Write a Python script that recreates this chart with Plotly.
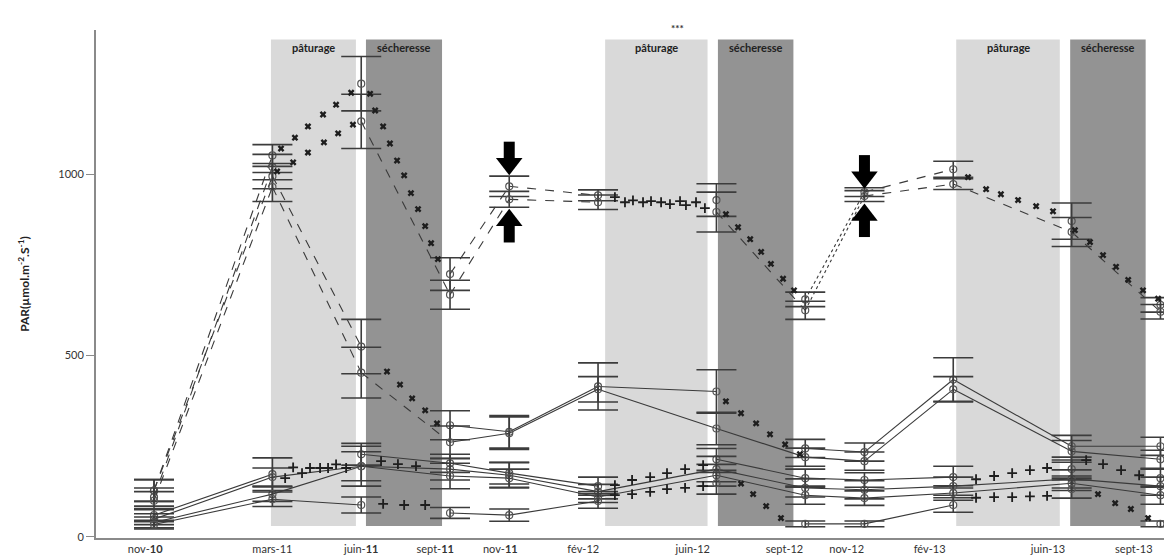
"""
Évolution du PAR sous différents traitements (nov-10 à sept-13)
"""

import plotly.graph_objects as go

# Dates de mesure (mois depuis nov-10)
mois = [0, 4, 7, 10, 12, 15, 19, 22, 24, 27, 31, 34]
etiquettes = ["nov-<b>10</b>", "mars-11", "juin-<b>11</b>", "sept-<b>11</b>", "nov-<b>11</b>",
              "fév-12", "juin-12", "sept-12", "nov-12", "fév-13", "juin-13", "sept-13"]
pos_etiquettes = [-0.3, 4.0, 7.0, 9.5, 11.7, 14.5, 18.2, 21.3, 23.4, 26.2, 30.2, 33.1]

# Moyennes et erreurs
h1 = [128, 1052, 1250, 725, 967, 942, 929, 655, 951, 1014, 871, 640]
h1_err = [30, 30, 75, 45, 28, 15, 45, 20, 12, 22, 50, 20]
h2 = [110, 1020, 1146, 668, 931, 923, 896, 625, 940, 973, 841, 621]
h2_err = [25, 35, 75, 40, 22, 20, 55, 25, 15, 15, 40, 20]
m1 = [128, 995, 525, 308, 290, 415, 401, 244, 234, 434, 250, 250]
m1_err = [30, 35, 75, 40, 45, 65, 60, 25, 25, 60, 30, 25]
m2 = [100, 965, 453, 261, 286, 407, 299, 220, 209, 407, 236, 214]
m2_err = [25, 40, 70, 45, 45, 35, 45, 25, 25, 35, 30, 25]
l1 = [60, 173, 228, 203, 176, 140, 214, 162, 157, 165, 187, 162]
l1_err = [18, 45, 30, 25, 30, 25, 30, 25, 20, 30, 25, 25]
l2 = [49, 165, 195, 187, 170, 125, 187, 135, 130, 140, 160, 140]
l2_err = [15, 25, 55, 30, 35, 20, 35, 25, 25, 25, 25, 25]
l3 = [40, 118, 195, 168, 162, 110, 170, 115, 107, 121, 148, 115]
l3_err = [15, 20, 40, 35, 25, 15, 30, 25, 20, 20, 20, 25]
l4 = [34, 104, 88, 66, 60, 99, 148, 36, 36, 88, 132, 36]
l4_err = [12, 20, 22, 15, 17, 20, 30, 8, 8, 20, 25, 8]

# Style de liaison entre deux dates successives
liaisons_h1 = ["dash", None, None, "dash", "dash", None, None, "dot", "dash", None, None]
liaisons_h2 = ["dash", None, "dash", "dash", "dash", None, "dash", "dot", "dash", "dash", "dash"]
liaisons_m1 = ["dash", "dash", None, "solid", "solid", "solid", None, "solid", "solid", "solid", "solid"]
liaisons_m2 = ["dash", "dash", "dash", "solid", "solid", "solid", "solid", "solid", "solid", "solid", "solid"]
liaisons_l1 = ["solid", None, "solid", "solid", "solid", None, "solid", "solid", "solid", None, None]
liaisons_l2 = ["solid"] * 11
liaisons_l3 = ["solid"] * 11
liaisons_l4 = ["solid", "solid", None, "solid", "solid", None, None, "solid", "solid", None, None]

# Marques "x"
x_haut_ete11 = [4.29, 4.76, 5.20, 5.71, 6.15, 6.66, 7.30, 4.16, 4.70, 5.20, 5.74, 6.22, 6.72]
y_haut_ete11 = [1071, 1101, 1132, 1165, 1192, 1225, 1222, 1008, 1033, 1060, 1088, 1113, 1137]
x_haut_sech11 = [7.47, 7.74, 7.97, 8.21, 8.45, 8.68, 8.92, 9.16, 9.36, 9.59]
y_haut_sech11 = [1176, 1132, 1085, 1038, 997, 948, 904, 857, 810, 766]
x_mil_sech11 = [7.87, 8.31, 8.72, 9.16, 9.56]
y_mil_sech11 = [456, 420, 382, 349, 313]
x_haut_sech12 = [19.32, 19.73, 20.14, 20.51, 20.84, 21.25, 21.62]
y_haut_sech12 = [890, 854, 821, 786, 753, 712, 680]
x_mil_sech12 = [19.32, 19.83, 20.34, 20.81, 21.32, 21.82]
y_mil_sech12 = [374, 341, 313, 283, 255, 228]
x_bas_sech12 = [19.83, 20.24, 20.68, 21.18]
y_bas_sech12 = [147, 118, 85, 52]
x_haut_ete13 = [27.5, 28.11, 28.61, 29.19, 29.8, 30.37]
y_haut_ete13 = [992, 959, 945, 929, 912, 898]
x_haut_sech13 = [31.11, 31.62, 32.06, 32.5, 32.91, 33.41, 33.92]
y_haut_sech13 = [846, 813, 777, 745, 709, 680, 657]
x_bas_sech13 = [31.89, 32.47, 33.0, 33.58]
y_bas_sech13 = [118, 93, 77, 52]

# Marques "+"
px_ete11 = [4.43, 4.70, 5.0, 5.27, 5.61, 5.88, 6.15, 6.49]
py_ete11 = [162, 192, 176, 190, 190, 190, 200, 190]
px_sech11 = [7.67, 8.24, 8.85, 7.74, 8.45, 9.16]
py_sech11 = [209, 201, 195, 91, 88, 88]
px_haut_ete12 = [15.57, 15.91, 16.18, 16.52, 16.79, 17.13, 17.43, 17.77, 17.97, 18.31, 18.61]
py_haut_ete12 = [937, 923, 928, 923, 926, 923, 918, 926, 915, 923, 907]
px_bas_ete12 = [15.57, 16.15, 16.76, 17.33, 17.94, 18.55, 15.57, 16.15, 16.76, 17.33, 17.94, 18.55]
py_bas_ete12 = [143, 157, 165, 176, 187, 198, 115, 118, 124, 132, 135, 140]
px_ete13 = [27.77, 28.38, 28.99, 29.59, 30.17, 27.77, 28.38, 28.99, 29.59, 30.17]
py_ete13 = [159, 168, 176, 184, 190, 108, 110, 110, 112, 113]
px_sech13 = [31.49, 32.06, 32.67, 33.28]
py_sech13 = [212, 201, 184, 170]

# Périodes de pâturage et de sécheresse (en mois)
periodes = [("pâturage", 3.95, 6.82), ("sécheresse", 7.16, 9.73),
            ("pâturage", 15.24, 18.7), ("sécheresse", 19.05, 21.6),
            ("pâturage", 27.1, 30.6), ("sécheresse", 30.95, 33.5)]
couleurs_periodes = {"pâturage": "#d9d9d9", "sécheresse": "#939393"}

# Flèches (mesures de nov-11 et nov-12) : pointe haute et pointe basse
fleches_mois = [12, 24]
fleches_haut = [1012, 975]
fleches_bas = [890, 905]


def ajouter_serie(fig, valeurs, erreurs, liaisons):
    """Ajoute une série : segments selon le style de liaison, puis points + barres d'erreur"""
    for style in ("solid", "dash", "dot"):
        xs, ys = [], []
        for i, s in enumerate(liaisons):
            if s == style:
                xs += [mois[i], mois[i + 1], None]
                ys += [valeurs[i], valeurs[i + 1], None]
        if xs:
            fig.add_trace(go.Scatter(
                x=xs, y=ys, mode="lines", showlegend=False, hoverinfo="skip",
                line=dict(color="#3a3a3a", width=1.1, dash=style)
            ))
    fig.add_trace(go.Scatter(
        x=mois, y=valeurs, mode="markers", showlegend=False,
        marker=dict(symbol="circle-open", size=7, color="#555", line=dict(width=1.2)),
        error_y=dict(type="data", array=erreurs, color="#3c3c3c", thickness=1.6, width=20)
    ))


def ajouter_fleches(fig):
    """Flèches pleines : tige épaisse + tête triangulaire"""
    for m, haut, bas in zip(fleches_mois, fleches_haut, fleches_bas):
        # tige
        fig.add_trace(go.Scatter(x=[m, m, None, m, m], y=[haut + 30, haut + 78, None, bas - 30, bas - 78],
                                 mode="lines", showlegend=False, hoverinfo="skip",
                                 line=dict(color="#000", width=11)))
        # têtes
        fig.add_trace(go.Scatter(x=[m], y=[haut + 17], mode="markers", showlegend=False,
                                 hoverinfo="skip",
                                 marker=dict(symbol="triangle-down", size=23, color="#000")))
        fig.add_trace(go.Scatter(x=[m], y=[bas - 17], mode="markers", showlegend=False,
                                 hoverinfo="skip",
                                 marker=dict(symbol="triangle-up", size=23, color="#000")))


def crear_figure():
    fig = go.Figure()

    # Bandes grisées
    for nom, x0, x1 in periodes:
        fig.add_shape(type="rect", x0=x0, x1=x1, y0=30, y1=1372, layer="below",
                      fillcolor=couleurs_periodes[nom], line_width=0)
        fig.add_annotation(x=(x0 + x1) / 2, y=1349, text=f"<b>{nom}</b>", showarrow=False,
                           font=dict(family="Lato", size=11, color="#222"))

    series = [(h1, h1_err, liaisons_h1), (h2, h2_err, liaisons_h2),
              (m1, m1_err, liaisons_m1), (m2, m2_err, liaisons_m2),
              (l1, l1_err, liaisons_l1), (l2, l2_err, liaisons_l2),
              (l3, l3_err, liaisons_l3), (l4, l4_err, liaisons_l4)]
    for valeurs, erreurs, liaisons in series:
        ajouter_serie(fig, valeurs, erreurs, liaisons)

    # Marques x et +
    croix_x = x_haut_ete11 + x_haut_sech11 + x_mil_sech11 + x_haut_sech12 + x_mil_sech12 \
        + x_bas_sech12 + x_haut_ete13 + x_haut_sech13 + x_bas_sech13
    croix_y = y_haut_ete11 + y_haut_sech11 + y_mil_sech11 + y_haut_sech12 + y_mil_sech12 \
        + y_bas_sech12 + y_haut_ete13 + y_haut_sech13 + y_bas_sech13
    fig.add_trace(go.Scatter(x=croix_x, y=croix_y, mode="markers", showlegend=False,
                             marker=dict(symbol="x", size=6, color="#1e1e1e")))
    plus_x = px_ete11 + px_sech11 + px_haut_ete12 + px_bas_ete12 + px_ete13 + px_sech13
    plus_y = py_ete11 + py_sech11 + py_haut_ete12 + py_bas_ete12 + py_ete13 + py_sech13
    fig.add_trace(go.Scatter(x=plus_x, y=plus_y, mode="markers", showlegend=False,
                             marker=dict(symbol="cross-thin-open", size=7, color="#1e1e1e",
                                         line=dict(width=1.8, color="#1e1e1e"))))

    ajouter_fleches(fig)

    fig.add_annotation(x=17.67, y=1.02, yref="paper", text="<b>***</b>", showarrow=False,
                       font=dict(family="Lato", size=10, color="#333"))

    fig.update_layout(
        width=1172, height=558,
        margin=dict(l=88, r=0, t=22, b=28),
        plot_bgcolor="white", paper_bgcolor="white",
        font=dict(family="Lato", size=11, color="#333"),
        xaxis=dict(range=[-1.96, 34.66], tickvals=pos_etiquettes, ticktext=etiquettes,
                   showgrid=False, zeroline=False, showline=True, linecolor="#8a8a8a",
                   linewidth=2, ticks="", tickfont=dict(size=11, color="#333")),
        yaxis=dict(range=[-3, 1398], tickvals=[0, 500, 1000], showgrid=False,
                   zeroline=False, showline=True, linecolor="#8a8a8a", linewidth=2,
                   ticks="outside", ticklen=8, tickcolor="#8a8a8a",
                   tickfont=dict(size=11, color="#333"),
                   title=dict(text="<b>PAR(µmol.m<sup>-2</sup>.S<sup>-1</sup>)</b>",
                              font=dict(size=12, color="#222"), standoff=26)),
    )
    return fig


fig = crear_figure()
fig.write_html("out.html")
